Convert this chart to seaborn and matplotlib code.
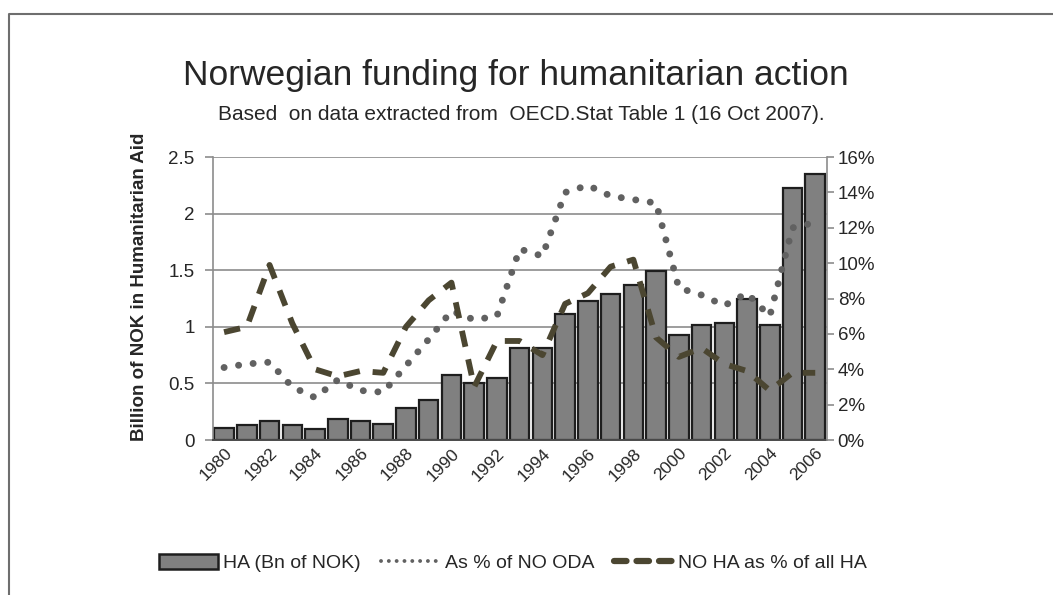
import matplotlib
matplotlib.use("Agg")
import matplotlib.pyplot as plt
import seaborn as sns
from matplotlib.lines import Line2D
from matplotlib.patches import Patch
from matplotlib.ticker import FuncFormatter, MultipleLocator

# values
years = list(range(1980, 2007))
ha_bn_nok = [0.11, 0.13, 0.17, 0.13, 0.10, 0.19, 0.17, 0.14, 0.28, 0.35,
             0.57, 0.50, 0.55, 0.81, 0.81, 1.11, 1.23, 1.29, 1.37, 1.49,
             0.93, 1.02, 1.03, 1.25, 1.02, 2.23, 2.35]
pct_of_oda = [4.1, 4.3, 4.4, 3.0, 2.4, 3.4, 2.8, 2.7, 4.2, 5.7,
              7.3, 6.8, 7.0, 10.8, 10.4, 14.0, 14.4, 13.8, 13.6, 13.4,
              8.6, 8.2, 7.6, 8.3, 7.0, 12.0, 12.3]
pct_of_all_ha = [6.1, 6.4, 9.9, 6.6, 4.0, 3.6, 3.9, 3.8, 6.4, 7.9,
                 8.9, 3.0, 5.6, 5.6, 4.8, 7.7, 8.3, 9.8, 10.2, 5.8,
                 4.7, 5.2, 4.3, 3.9, 2.8, 3.8, 3.8]

sns.set_style("white")
plt.rcParams['font.family'] = ['Liberation Sans', 'DejaVu Sans']

fig = plt.figure(figsize=(10.53, 5.95), dpi=100)
ax = fig.add_axes([0.202, 0.2605, 0.583, 0.4755])

sns.barplot(x=years, y=ha_bn_nok, native_scale=True, color='#808080',
            saturation=1, edgecolor='#1e1e1e', linewidth=1.6, width=0.86, ax=ax)
ax.set_xlim(1979.5, 2006.5)
ax.set_ylim(0, 2.5)
ax.yaxis.set_major_locator(MultipleLocator(0.5))
ax.yaxis.set_major_formatter(FuncFormatter(lambda v, p: f"{v:g}"))
ax.set_xticks(years[::2])
ax.set_xticklabels([str(y) for y in years[::2]], rotation=45, ha='right',
                   rotation_mode='anchor', fontsize=12.5)
ax.grid(axis='y', color='#8c8c8c', linewidth=1.2)
ax.set_axisbelow(True)
ax.tick_params(axis='y', which='major', direction='out', length=6, width=1.2,
               color='#8c8c8c', labelsize=13.5, left=True, pad=7)
ax.tick_params(axis='x', length=0, pad=4)
for s in ['top', 'right']:
    ax.spines[s].set_visible(False)
ax.spines['left'].set_color('#8c8c8c')
ax.spines['left'].set_linewidth(1.2)
ax.spines['bottom'].set_color('#4a4a4a')
ax.spines['bottom'].set_linewidth(1.4)
ax.set_ylabel("Billion of NOK in Humanitarian Aid", fontsize=13.5,
              fontweight='bold')
ax.yaxis.set_label_coords(-0.105, 0.54)
ax.set_xlabel("")

ax2 = ax.twinx()
sns.lineplot(x=years, y=pct_of_oda, ax=ax2, color='#616161', linewidth=5,
             linestyle=(0, (0.01, 2.1)), dash_capstyle='round')
sns.lineplot(x=years, y=pct_of_all_ha, ax=ax2, color='#4b4631', linewidth=4.2,
             linestyle=(0, (2.8, 2.2)), dash_capstyle='butt')
ax2.set_ylim(0, 16)
ax2.yaxis.set_major_locator(MultipleLocator(2))
ax2.yaxis.set_major_formatter(FuncFormatter(lambda v, p: f"{v:.0f}%"))
ax2.tick_params(axis='y', direction='out', length=5, width=1.2,
                color='#8c8c8c', labelsize=13.5, pad=3)
for s in ['top', 'left', 'bottom']:
    ax2.spines[s].set_visible(False)
ax2.spines['right'].set_color('#8c8c8c')
ax2.spines['right'].set_linewidth(1.2)
ax2.set_xlim(1979.5, 2006.5)

fig.text(516 / 1053, 1 - 85 / 595, "Norwegian funding for humanitarian action",
         ha='center', va='baseline', fontsize=25.5)
fig.text(521 / 1053, 1 - 120 / 595,
         "Based  on data extracted from  OECD.Stat Table 1 (16 Oct 2007).",
         ha='center', va='baseline', fontsize=15)

handles = [
    Patch(facecolor='#808080', edgecolor='#1e1e1e', linewidth=1.8),
    Line2D([], [], color='#616161', linewidth=2.8, linestyle=(0, (0.01, 2.0)),
           dash_capstyle='round'),
    Line2D([], [], color='#4b4631', linewidth=4.5, linestyle=(0, (2.0, 1.6)),
           dash_capstyle='round'),
]
labels = ["HA (Bn of NOK)", "As % of NO ODA", "NO HA as % of all HA"]
fig.legend(handles, labels, loc='center', bbox_to_anchor=(513 / 1053, 1 - 563 / 595),
           ncol=3, frameon=False, handlelength=3.0, handleheight=0.8,
           columnspacing=1.0, handletextpad=0.3, prop={'size': 14})

# chart-area border (top and left edges only)
fig.add_artist(Line2D([9 / 1053, 9 / 1053, 1.0], [0.0, 1 - 14 / 595, 1 - 14 / 595],
                      transform=fig.transFigure, color='#6e6e6e', linewidth=1.5))

fig.savefig("out.png", dpi=100)
